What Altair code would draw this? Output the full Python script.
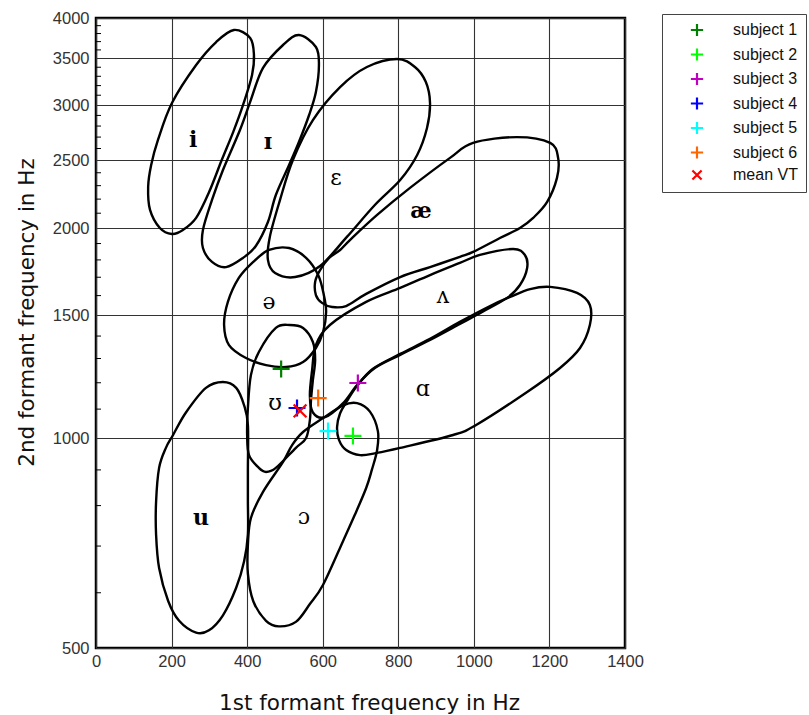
import altair as alt
import pandas as pd

# ---- vowel loop outlines: (F1 Hz, F2 Hz), traced clockwise ----
f1_i = [365, 408, 418, 413, 389, 363, 333, 299, 265, 230, 201, 169, 143, 138, 146, 164, 201, 265, 318]
f2_i = [3845, 3745, 3540, 3315, 3000, 2745, 2505, 2250, 2068, 1987, 1961, 2000, 2123, 2290, 2462, 2675, 3022, 3425, 3695]

f1_ih = [537, 582, 590, 582, 564, 537, 511, 476, 455, 423, 389, 344, 307, 283, 283, 307, 336, 381, 408, 442, 495]
f2_ih = [3782, 3635, 3425, 3133, 2904, 2656, 2462, 2230, 2040, 1885, 1812, 1758, 1788, 1872, 1987, 2194, 2422, 2764, 3032, 3392, 3659]

f1_eh = [797, 844, 873, 884, 876, 850, 805, 738, 664, 593, 527, 474, 455, 460, 487, 521, 574, 646, 717]
f2_eh = [3494, 3403, 3238, 3022, 2782, 2545, 2343, 2158, 1942, 1764, 1701, 1724, 1800, 1942, 2194, 2503, 2856, 3185, 3403]

f1_ae = [1114, 1202, 1223, 1220, 1194, 1157, 1122, 1069, 998, 963, 884, 805, 715, 662, 625, 598, 582, 580, 593, 617, 646, 672, 744, 831, 937, 998]
f2_ae = [2700, 2649, 2521, 2360, 2180, 2068, 2000, 1935, 1848, 1818, 1758, 1701, 1609, 1546, 1541, 1562, 1603, 1675, 1741, 1812, 1860, 1922, 2088, 2283, 2521, 2649]

f1_uh = [1104, 1135, 1141, 1122, 1088, 1022, 963, 884, 805, 738, 691, 654, 606, 574, 566, 572, 582, 619, 715, 805, 884, 963, 1016]
f2_uh = [1866, 1830, 1753, 1657, 1588, 1516, 1457, 1382, 1316, 1260, 1191, 1122, 1071, 1088, 1151, 1252, 1359, 1452, 1567, 1641, 1712, 1782, 1830]

f1_aa = [1202, 1273, 1307, 1307, 1281, 1228, 1141, 1006, 945, 805, 743, 699, 662, 643, 638, 646, 664, 691, 733, 805, 884, 963, 1043, 1096, 1149]
f2_aa = [1647, 1614, 1551, 1452, 1346, 1260, 1164, 1044, 1010, 968, 952, 945, 961, 994, 1037, 1085, 1129, 1188, 1257, 1320, 1387, 1467, 1546, 1593, 1635]

f1_ao = [691, 725, 746, 744, 730, 715, 685, 654, 601, 566, 529, 484, 450, 416, 402, 402, 410, 442, 495, 519, 548, 601, 654]
f2_ao = [1122, 1091, 1023, 961, 900, 848, 776, 712, 616, 578, 545, 537, 547, 584, 639, 703, 768, 837, 924, 977, 1020, 1068, 1114]

f1_uu = [513, 548, 574, 580, 574, 569, 566, 556, 529, 476, 450, 431, 405, 400, 402, 410, 431, 476]
f2_uu = [1452, 1438, 1373, 1294, 1211, 1134, 1061, 1000, 968, 906, 894, 906, 945, 1010, 1104, 1231, 1328, 1438]

f1_u = [336, 371, 392, 402, 402, 402, 402, 392, 371, 336, 299, 265, 220, 191, 167, 159, 159, 167, 185, 204, 238, 291]
f2_u = [1203, 1180, 1114, 1044, 900, 815, 727, 666, 610, 557, 530, 526, 547, 584, 651, 727, 810, 906, 968, 1010, 1088, 1180]

f1_er = [458, 511, 556, 588, 603, 609, 601, 582, 548, 503, 450, 397, 352, 339, 349, 378, 416]
f2_er = [1860, 1872, 1812, 1712, 1603, 1516, 1419, 1346, 1285, 1264, 1272, 1302, 1359, 1452, 1567, 1696, 1788]

# ---- vowel symbols ----
vowel_symbols = ["i", "ɪ", "ɛ", "æ", "ə", "ʌ", "ʊ", "ɑ", "u", "ɔ"]
symbol_f1 = [257, 455, 635, 860, 458, 918, 474, 865, 278, 550]
symbol_f2 = [2675, 2656, 2360, 2116, 1567, 1598, 1122, 1176, 768, 770]
symbol_bold = [True, True, False, True, False, False, False, False, True, False]

# ---- measured formants ----
subject_names = ["subject 1", "subject 2", "subject 3", "subject 4", "subject 5", "subject 6", "mean VT"]
subject_f1 = [490, 680, 693, 532, 614, 588, 540]
subject_f2 = [1256, 1007, 1199, 1104, 1023, 1141, 1094]
subject_colors = ["#008000", "#00ff00", "#c000c0", "#0000ff", "#00ffff", "#ff6600", "#ff0000"]

# ---- axis ticks ----
x_ticks = [0, 200, 400, 600, 800, 1000, 1200, 1400]
y_ticks = [500, 1000, 1500, 2000, 2500, 3000, 3500, 4000]
y_minor = [600, 700, 800, 900, 1100, 1200, 1300, 1400, 1600, 1700, 1800, 1900,
           2100, 2200, 2300, 2400, 2600, 2700, 2800, 2900, 3100, 3200, 3300, 3400,
           3600, 3700, 3800, 3900]

loops = {
    "i": (f1_i, f2_i), "ɪ": (f1_ih, f2_ih), "ɛ": (f1_eh, f2_eh), "æ": (f1_ae, f2_ae),
    "ʌ": (f1_uh, f2_uh), "ɑ": (f1_aa, f2_aa), "ɔ": (f1_ao, f2_ao), "ʊ": (f1_uu, f2_uu),
    "u": (f1_u, f2_u), "ə": (f1_er, f2_er),
}
rows = []
for name, (xs, ys) in loops.items():
    for k, (a, b) in enumerate(zip(xs, ys)):
        rows.append({"vowel": name, "k": k, "F1": a, "F2": b})
outline_df = pd.DataFrame(rows)

symbols_df = pd.DataFrame({"sym": vowel_symbols, "F1": symbol_f1, "F2": symbol_f2, "bold": symbol_bold})
points_df = pd.DataFrame({"who": subject_names, "F1": subject_f1, "F2": subject_f2})
minor_df = pd.DataFrame({"F2": y_minor})

x_scale = alt.Scale(domain=[0, 1400], nice=False)
y_scale = alt.Scale(type="log", domain=[500, 4000], nice=False)

x_axis = alt.Axis(
    values=x_ticks, format="d", grid=True, gridColor="#333333", gridWidth=1.1, ticks=False,
    domain=False, labelFlush=False, labelOverlap=False,
    labelFont="Liberation Sans", labelFontSize=16.5, labelColor="#333333",
    labelPadding=5, title="1st formant frequency in Hz", titleFont="DejaVu Sans",
    titleFontSize=21.5, titleFontWeight="normal", titleColor="#111111", titleX=273, titleY=61,
    titleBaseline="alphabetic", titleAlign="center",
)
y_axis = alt.Axis(
    values=y_ticks, format="d", grid=True, gridColor="#333333", gridWidth=1.1, ticks=False,
    domain=False, labelFlush=False, labelOverlap=False,
    labelFont="Liberation Sans", labelFontSize=16.5, labelColor="#333333",
    labelPadding=7, title="2nd formant frequency in Hz", titleFont="DejaVu Sans",
    titleFontSize=21.5, titleFontWeight="normal", titleColor="#111111", titleX=-69, titleY=294,
    titleAngle=270, titleAlign="center", titleBaseline="middle",
)

curves = alt.Chart(outline_df).mark_line(
    interpolate="cardinal-closed", color="black", strokeWidth=2.4
).encode(
    x=alt.X("F1:Q", scale=x_scale, axis=x_axis),
    y=alt.Y("F2:Q", scale=y_scale, axis=y_axis),
    detail="vowel:N",
    order="k:Q",
)

minor_ticks = alt.Chart(minor_df).mark_rule(color="black", strokeWidth=1).encode(
    x=alt.value(0), x2=alt.value(5), y=alt.Y("F2:Q", scale=y_scale)
)

sym_bold = alt.Chart(symbols_df).transform_filter("datum.bold").mark_text(
    font="DejaVu Serif", fontSize=22, fontWeight="bold", color="black"
).encode(x=alt.X("F1:Q", scale=x_scale), y=alt.Y("F2:Q", scale=y_scale), text="sym:N")

sym_plain = alt.Chart(symbols_df).transform_filter("!datum.bold").mark_text(
    font="DejaVu Serif", fontSize=22, color="black"
).encode(x=alt.X("F1:Q", scale=x_scale), y=alt.Y("F2:Q", scale=y_scale), text="sym:N")

plus_path = "M-1,0L1,0M0,-1L0,1"
x_path = "M-0.75,-0.75L0.75,0.75M-0.75,0.75L0.75,-0.75"

legend = alt.Legend(
    title=None, orient="none", legendX=566, legendY=-4, padding=8,
    strokeColor="#444444", fillColor="white", symbolSize=150, symbolOffset=19,
    labelOffset=28, labelFont="Liberation Sans", labelFontSize=16, labelColor="#111111",
    rowPadding=2.5,
)

points = alt.Chart(points_df).mark_point(filled=False, size=289, opacity=1).encode(
    x=alt.X("F1:Q", scale=x_scale),
    y=alt.Y("F2:Q", scale=y_scale),
    color=alt.Color("who:N", scale=alt.Scale(domain=subject_names, range=subject_colors), legend=legend),
    shape=alt.Shape("who:N", scale=alt.Scale(domain=subject_names, range=[plus_path] * 6 + [x_path]), legend=legend),
    strokeWidth=alt.StrokeWidth("who:N", scale=alt.Scale(domain=subject_names, range=[2.2] * 6 + [3.5]), legend=legend),
)

chart = alt.layer(curves, minor_ticks, sym_bold, sym_plain, points).properties(
    width=529, height=630,
    autosize=alt.AutoSizeParams(type="none"),
    padding={"left": 96, "top": 18, "right": 184, "bottom": 67},
    background="white",
).configure_view(stroke="black", strokeWidth=2.5)

chart.save("out.html", embed_options={"renderer": "svg", "actions": False})
